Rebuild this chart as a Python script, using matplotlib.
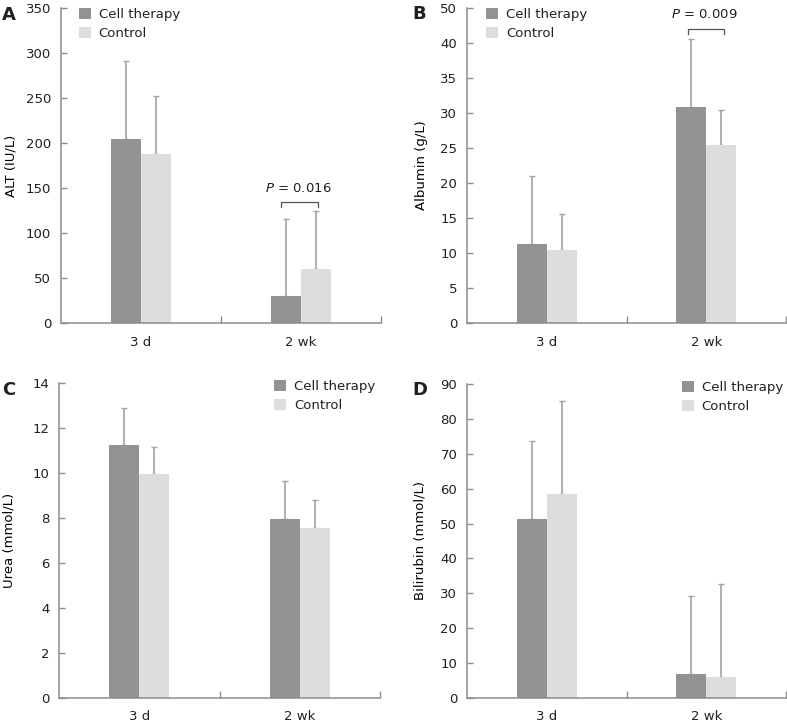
import matplotlib
matplotlib.use("Agg")
import matplotlib.pyplot as plt
from matplotlib.patches import Patch
import numpy as np

# data (mean and upper SD)
categories = ["3 d", "2 wk"]
series_names = ["Cell therapy", "Control"]

alt_cell = [204, 30]
alt_cell_sd = [87, 86]
alt_ctrl = [188, 60]
alt_ctrl_sd = [64, 65]

alb_cell = [11.3, 30.9]
alb_cell_sd = [9.7, 9.7]
alb_ctrl = [10.5, 25.4]
alb_ctrl_sd = [5.1, 5.1]

urea_cell = [11.25, 7.96]
urea_cell_sd = [1.62, 1.67]
urea_ctrl = [9.96, 7.56]
urea_ctrl_sd = [1.18, 1.23]

bili_cell = [51.3, 7.0]
bili_cell_sd = [22.5, 22.3]
bili_ctrl = [58.6, 5.9]
bili_ctrl_sd = [26.6, 26.7]

alt_ticks = [0, 50, 100, 150, 200, 250, 300, 350]
alb_ticks = [0, 5, 10, 15, 20, 25, 30, 35, 40, 45]
alb_ticklabels = ["0", "5", "10", "15", "20", "25", "30", "35", "40", "50"]  # as printed
urea_ticks = [0, 2, 4, 6, 8, 10, 12, 14]
bili_ticks = [0, 10, 20, 30, 40, 50, 60, 70, 80, 90]

DARK = "#939393"
LIGHT = "#dddddd"
ERR = "#a3a3a3"
AXC = "#8c8c8c"
TXT = "#231f20"

plt.rcParams["font.family"] = ["DejaVu Sans"]
plt.rcParams["font.size"] = 9.5
plt.rcParams["text.color"] = TXT

W, H = 787, 723
fig = plt.figure(figsize=(W / 100, H / 100), dpi=100)


def px_axes(left, right, top, bottom):
    return fig.add_axes([left / W, (H - bottom) / H, (right - left) / W, (bottom - top) / H])


def panel(ax, cell, cell_sd, ctrl, ctrl_sd, ticks, ticklabels, ylabel, ylab_x,
          legend_loc, legend_anchor):
    x = np.arange(len(categories))
    bw = 0.1875
    ax.bar(x - bw / 2, cell, bw, color=DARK, zorder=2)
    ax.bar(x + bw / 2, ctrl, bw, color=LIGHT, zorder=2)
    ax.errorbar(x - bw / 2, cell, yerr=[np.zeros(len(cell)), cell_sd], fmt="none",
                ecolor=ERR, elinewidth=1.2, capsize=2.3, capthick=1, zorder=1.5)
    ax.errorbar(x + bw / 2, ctrl, yerr=[np.zeros(len(ctrl)), ctrl_sd], fmt="none",
                ecolor=ERR, elinewidth=1.2, capsize=2.3, capthick=1, zorder=1.5)

    ax.set_xlim(-0.5, len(categories) - 0.5)
    ax.set_ylim(ticks[0], ticks[-1])
    ax.set_xticks(x)
    ax.set_xticklabels(categories)
    ax.set_xticks(np.arange(len(categories)) + 0.5, minor=True)
    ax.tick_params(axis="x", which="major", length=0, pad=9, colors=TXT, labelsize=9.5)
    ax.tick_params(axis="x", which="minor", direction="in", length=5, color=AXC, width=1)
    ax.set_yticks(ticks)
    ax.set_yticklabels(ticklabels if ticklabels else [str(t) for t in ticks])
    ax.tick_params(axis="y", direction="in", length=4, color=AXC, width=1, pad=7,
                   labelcolor=TXT, labelsize=9.5)
    for s in ["top", "right"]:
        ax.spines[s].set_visible(False)
    for s in ["left", "bottom"]:
        ax.spines[s].set_color(AXC)
        ax.spines[s].set_linewidth(1.1)
    ax.set_ylabel(ylabel, fontsize=9.5)
    ax.yaxis.set_label_coords(ylab_x, 0.5)

    handles = [Patch(facecolor=DARK, edgecolor="none"), Patch(facecolor=LIGHT, edgecolor="none")]
    ax.legend(handles, series_names, loc=legend_loc, bbox_to_anchor=legend_anchor,
              frameon=False, borderpad=0, borderaxespad=0, handlelength=0.9,
              handleheight=0.9, handletextpad=0.6, labelspacing=0.45, fontsize=9.5)
    return x, bw


def bracket(ax, x0, x1, y, text_y, label):
    lo, hi = ax.get_ylim()
    drop = (hi - lo) * 5 / 315
    ax.plot([x0, x0, x1, x1], [y - drop, y, y, y - drop], color="#555555", lw=0.9, zorder=3)
    ax.text((x0 + x1) / 2 - 0.01, text_y, label, ha="center", va="center", fontsize=9.5)


# A
axA = px_axes(61, 381, 8, 323)
x, bw = panel(axA, alt_cell, alt_cell_sd, alt_ctrl, alt_ctrl_sd, alt_ticks, None,
              "ALT (IU/L)", -0.137, "upper left", (0.056, 1.0))
bracket(axA, x[1] - bw / 2 - 0.03, x[1] + bw / 2 + 0.01, 135, 150, "$\\it{P}$ = 0.016")

# B
axB = px_axes(467, 786, 8, 323)
x, bw = panel(axB, alb_cell, alb_cell_sd, alb_ctrl, alb_ctrl_sd, alb_ticks, alb_ticklabels,
              "Albumin (g/L)", -0.122, "upper left", (0.06, 1.0))
bracket(axB, x[1] - bw / 2 - 0.02, x[1] + bw / 2 + 0.02, 42.0, 44.0, "$\\it{P}$ = 0.009")

# C
axC = px_axes(59, 380, 383, 698)
panel(axC, urea_cell, urea_cell_sd, urea_ctrl, urea_ctrl_sd, urea_ticks, None,
      "Urea (mmol/L)", -0.137, "upper right", (0.985, 1.01))

# D
axD = px_axes(467, 786, 384, 698)
panel(axD, bili_cell, bili_cell_sd, bili_ctrl, bili_ctrl_sd, bili_ticks, None,
      "Bilirubin (mmol/L)", -0.128, "upper right", (0.99, 1.01))

# panel letters
for lab, xp, yp in [("A", 2, 20), ("B", 412, 19), ("C", 2, 395), ("D", 412, 395)]:
    fig.text(xp / W, 1 - yp / H, lab, fontsize=13, fontweight="bold", va="baseline", ha="left")

fig.savefig("out.png", dpi=100, facecolor="white")
